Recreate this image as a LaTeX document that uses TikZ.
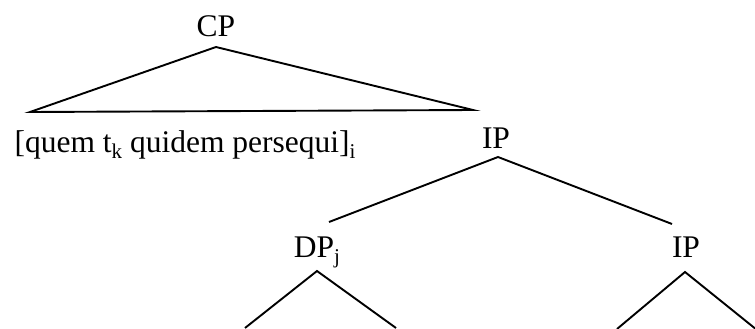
\documentclass[tikz,border=0pt]{standalone}
\usepackage{fontspec}
\setmainfont{Liberation Serif}
\newcommand\lsub[1]{\raisebox{-0.2em}{\fontsize{21}{21}\selectfont #1}}
\begin{document}
\begin{tikzpicture}[x=1pt,y=-1pt,
  lab/.style={anchor=base, inner sep=0pt, font=\fontsize{31.5}{38}\selectfont},
  edge/.style={line width=1.9pt, line join=miter}]
\useasboundingbox (0,0) rectangle (755,329);
\clip (0,0) rectangle (755,329);
% labels
\node[lab] (cp) at (216,37) {CP};
\node[lab] (spec) at (185,152) {[quem t\lsub{k} quidem persequi]\lsub{i}};
\node[lab] (ip1) at (496,148) {IP};
\node[lab] (dp) at (317,257) {DP\lsub{j}};
\node[lab] (ip2) at (686,257) {IP};
% attachment points
\coordinate (cpA) at (216,47);
\coordinate (triL) at (30,112);
\coordinate (triR) at (473,110);
\coordinate (ip1A) at (498,157);
\coordinate (dpT) at (329,222);
\coordinate (ip2T) at (672,224);
\coordinate (dpA) at (317,271);
\coordinate (dpL) at (245,328);
\coordinate (dpR) at (396,328);
\coordinate (ip2A) at (685,272);
\coordinate (ip2L) at (617,329);
\coordinate (ip2R) at (757,330);
% edges
\draw[edge] (triL) -- (cpA) -- (triR) -- cycle;
\draw[edge] (dpT) -- (ip1A) -- (ip2T);
\draw[edge] (dpL) -- (dpA) -- (dpR);
\draw[edge] (ip2L) -- (ip2A) -- (ip2R);
\end{tikzpicture}
\end{document}
